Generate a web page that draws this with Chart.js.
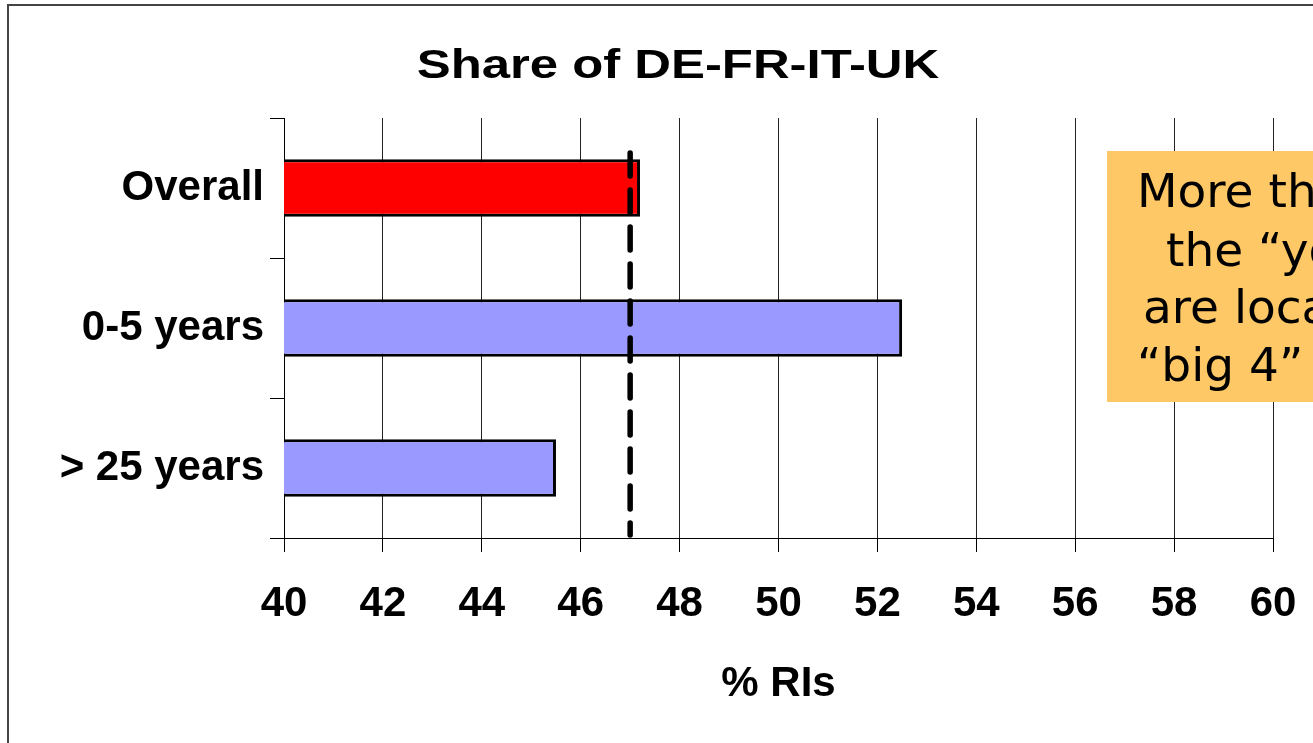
<!DOCTYPE html>
<html>
<head>
<meta charset="utf-8">
<script src="https://cdn.jsdelivr.net/npm/chart.js@4"></script>
<style>
  html, body { margin: 0; padding: 0; background: #fff; overflow: hidden; }
  #frame { position: absolute; left: 7px; top: 4px; width: 1400px; height: 800px;
           border-left: 2px solid #444; border-top: 2px solid #444; }
  #chart { position: absolute; left: 0; top: 0; }
</style>
</head>
<body>
<div id="frame"></div>
<canvas id="chart" width="1313" height="743"></canvas>
<script>
// ——— Data ———
const categories = ['Overall', '0-5 years', '> 25 years'];
const shareValues = [47.2, 52.5, 45.5];
const barColors = ['#ff0000', '#9999ff', '#9999ff'];
const referenceValue = 47.0;          // dashed line = overall share
const xMin = 40, xMax = 60, xStep = 2;
const titleText = 'Share of DE-FR-IT-UK';
const axisTitle = '% RIs';
const noteLines = ['More than half of', 'the \u201cyoung\u201d RIs', 'are located in the', '\u201cbig 4\u201d countries'];

const FONT = "'Liberation Sans', Arial, sans-serif";

// ——— Title (slightly stretched, like the original slide) ———
const titlePlugin = {
  id: 'stretchedTitle',
  afterDraw(chart) {
    const ctx = chart.ctx;
    ctx.save();
    ctx.font = `bold 41px ${FONT}`;
    ctx.fillStyle = '#000';
    ctx.textAlign = 'center';
    ctx.textBaseline = 'alphabetic';
    ctx.translate(678, 78);
    ctx.scale(1.24, 1);
    ctx.fillText(titleText, 0, 0);
    ctx.restore();
  }
};

// ——— Dashed reference line ———
const refLinePlugin = {
  id: 'refLine',
  afterDatasetsDraw(chart) {
    const { ctx, scales: { x, y }, chartArea } = chart;
    const px = x.getPixelForValue(referenceValue);
    ctx.save();
    ctx.strokeStyle = '#000';
    ctx.lineWidth = 5.5;
    ctx.lineCap = 'round';
    ctx.setLineDash([23, 14]);
    ctx.beginPath();
    ctx.moveTo(px, y.getPixelForValue(-0.25));
    ctx.lineTo(px, chartArea.bottom - 3);
    ctx.stroke();
    ctx.restore();
  }
};

// ——— Orange note box (cut off at the right edge) ———
const notePlugin = {
  id: 'note',
  afterDraw(chart) {
    const ctx = chart.ctx;
    const bx = 1107, by = 151;
    const offsets = [30, 59, 36, 30];
    const baselines = [56, 115, 172, 230];
    ctx.save();
    ctx.fillStyle = '#fdc865';
    ctx.fillRect(bx, by, 300, 251);
    ctx.fillStyle = '#000';
    ctx.font = "47px 'DejaVu Sans', Verdana, sans-serif";
    ctx.textAlign = 'left';
    ctx.textBaseline = 'alphabetic';
    noteLines.forEach((t, i) => ctx.fillText(t, bx + offsets[i], by + baselines[i]));
    ctx.restore();
  }
};

new Chart(document.getElementById('chart').getContext('2d'), {
  type: 'bar',
  data: {
    labels: categories,
    datasets: [{
      data: shareValues,
      backgroundColor: barColors,
      borderColor: '#000',
      borderWidth: 3,
      borderSkipped: false,
      barPercentage: 0.41,
      categoryPercentage: 1
    }]
  },
  options: {
    indexAxis: 'y',
    responsive: false,
    animation: false,
    devicePixelRatio: 1,
    layout: { padding: { top: 118, right: 40, left: 0, bottom: 0 } },
    plugins: { legend: { display: false }, title: { display: false }, tooltip: { enabled: false } },
    scales: {
      x: {
        min: xMin, max: xMax,
        ticks: { stepSize: xStep, color: '#000', padding: 27, font: { family: FONT, size: 42, weight: 'bold' } },
        grid: { color: '#222', lineWidth: 1, tickLength: 14, tickColor: '#000' },
        border: { display: true, color: '#000', width: 1 },
        title: { display: true, text: axisTitle, color: '#000', padding: { top: 0, bottom: 33 },
                 font: { family: FONT, size: 42, weight: 'bold' } },
        afterFit(scale) { scale.height = 205; scale.paddingLeft = 0; scale.paddingRight = 0; }
      },
      y: {
        ticks: { color: '#000', padding: 6, font: { family: FONT, size: 42, weight: 'bold' } },
        grid: { offset: true, drawOnChartArea: false, tickLength: 14, color: '#000', tickColor: '#000' },
        border: { display: true, color: '#000', width: 1 },
        afterFit(scale) { scale.width = 284; }
      }
    }
  },
  plugins: [titlePlugin, refLinePlugin, notePlugin]
});
</script>
</body>
</html>
